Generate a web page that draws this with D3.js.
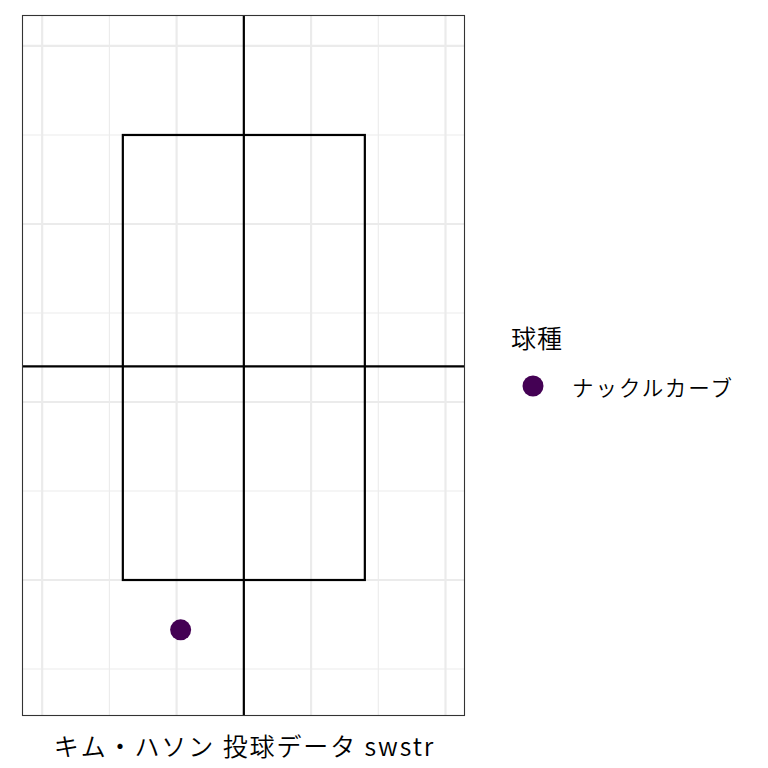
<!DOCTYPE html>
<html><head><meta charset="utf-8">
<script src="https://cdn.jsdelivr.net/npm/d3@7"></script>
<style>body{margin:0;background:#fff}svg{display:block}text{font-family:"Noto Sans CJK JP","Noto Sans",sans-serif;fill:#000}</style>
</head><body>
<script>
// data
const pitchTypes = ["ナックルカーブ"];
const plateX = [-0.47];
const plateZ = [0.72];
const zoneX = [-0.9, 0.9];
const zoneZ = [1.0, 3.5];
const centerX = [0];
const centerZ = [2.2];
const xMajor = [-1.5, -0.5, 0.5, 1.5];
const xMinor = [-1.0, 0.0, 1.0];
const zMajor = [1, 2, 3, 4];
const zMinor = [0.5, 1.5, 2.5, 3.5];
const colors = ["#440154"];
const caption = "キム・ハソン 投球データ swstr";
const legendTitle = "球種";

const W = 768, H = 768;
const panel = {l: 22, r: 465, t: 15, b: 716};
const svg = d3.select("body").append("svg").attr("width", W).attr("height", H);
const x = d3.scaleLinear().domain([-1.65, 1.645]).range([panel.l, panel.r]);
const y = d3.scaleLinear().domain([0.236, 4.174]).range([panel.b, panel.t]);

const g = svg.append("g");
g.append("rect").attr("x", panel.l).attr("y", panel.t).attr("width", panel.r - panel.l).attr("height", panel.b - panel.t).attr("fill", "#fff");
// minor grid
g.selectAll(".xm").data(xMinor).join("line").attr("x1", d => x(d)).attr("x2", d => x(d)).attr("y1", panel.t).attr("y2", panel.b).attr("stroke", "#ebebeb").attr("stroke-width", 1.1);
g.selectAll(".zm").data(zMinor).join("line").attr("y1", d => y(d)).attr("y2", d => y(d)).attr("x1", panel.l).attr("x2", panel.r).attr("stroke", "#ebebeb").attr("stroke-width", 1.1);
// major grid
g.selectAll(".xM").data(xMajor).join("line").attr("x1", d => x(d)).attr("x2", d => x(d)).attr("y1", panel.t).attr("y2", panel.b).attr("stroke", "#ebebeb").attr("stroke-width", 2.2);
g.selectAll(".zM").data(zMajor).join("line").attr("y1", d => y(d)).attr("y2", d => y(d)).attr("x1", panel.l).attr("x2", panel.r).attr("stroke", "#ebebeb").attr("stroke-width", 2.2);

// strike zone
g.append("rect").attr("x", x(zoneX[0])).attr("y", y(zoneZ[1])).attr("width", x(zoneX[1]) - x(zoneX[0])).attr("height", y(zoneZ[0]) - y(zoneZ[1])).attr("fill", "none").attr("stroke", "#000").attr("stroke-width", 2.2);
// center lines
g.selectAll(".cx").data(centerX).join("line").attr("x1", d => x(d)).attr("x2", d => x(d)).attr("y1", panel.t).attr("y2", panel.b).attr("stroke", "#000").attr("stroke-width", 2.2);
g.selectAll(".cz").data(centerZ).join("line").attr("y1", d => y(d)).attr("y2", d => y(d)).attr("x1", panel.l).attr("x2", panel.r).attr("stroke", "#000").attr("stroke-width", 2.2);

// points
g.selectAll(".pt").data(plateX).join("circle").attr("cx", d => x(d)).attr("cy", (d, i) => y(plateZ[i])).attr("r", 10.5).attr("fill", colors[0]);

// border
g.append("rect").attr("x", panel.l + 0.5).attr("y", panel.t + 0.5).attr("width", panel.r - panel.l - 1).attr("height", panel.b - panel.t - 1).attr("fill", "none").attr("stroke", "#333").attr("stroke-width", 1.1);

// caption
svg.append("text").attr("x", (panel.l + panel.r) / 2 + 1).attr("y", 745).attr("text-anchor", "middle").attr("dominant-baseline", "central").attr("font-size", 25).attr("font-weight", 350).attr("letter-spacing", 1.9).text(caption);

// legend
svg.append("text").attr("x", 511).attr("y", 337).attr("dominant-baseline", "central").attr("font-size", 25).attr("font-weight", 350).attr("letter-spacing", 1).text(legendTitle);
const lg = svg.selectAll(".lg").data(pitchTypes).join("g").attr("transform", (d, i) => `translate(0,${386 + i * 30})`);
lg.append("circle").attr("cx", 533).attr("cy", 0).attr("r", 10.5).attr("fill", (d, i) => colors[i]);
lg.append("text").attr("x", 572).attr("y", 0).attr("dominant-baseline", "central").attr("font-size", 21.5).attr("font-weight", 350).attr("letter-spacing", 2).text(d => d);
</script>
</body></html>
